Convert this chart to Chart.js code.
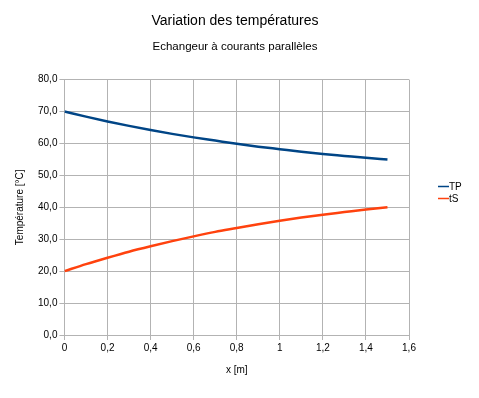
<!DOCTYPE html>
<html>
<head>
<meta charset="utf-8">
<script src="https://cdn.jsdelivr.net/npm/chart.js@4"></script>
<style>
html,body{margin:0;padding:0;background:#fff;}
#wrap{width:479px;height:398px;position:relative;}
</style>
</head>
<body>
<div id="wrap"><canvas id="c"></canvas></div>
<script>
// Data
const xPositions = [0, 0.1, 0.2, 0.3, 0.4, 0.5, 0.6, 0.7, 0.8, 0.9, 1.0, 1.1, 1.2, 1.3, 1.4, 1.5];
const tpValues   = [70.0, 68.4, 66.9, 65.5, 64.2, 63.0, 61.9, 60.9, 59.9, 59.0, 58.2, 57.4, 56.7, 56.1, 55.5, 55.0];
const tsValues   = [20.0, 22.2, 24.2, 26.1, 27.8, 29.4, 30.9, 32.3, 33.5, 34.7, 35.8, 36.8, 37.7, 38.5, 39.3, 40.0];
const seriesNames = ['TP', 'tS'];
const xTickLabels = ['0', '0,2', '0,4', '0,6', '0,8', '1', '1,2', '1,4', '1,6'];
const yTickLabels = ['0,0', '10,0', '20,0', '30,0', '40,0', '50,0', '60,0', '70,0', '80,0'];
const titleText = 'Variation des températures';
const subtitleText = 'Echangeur à courants parallèles';
const xAxisTitle = 'x [m]';
const yAxisTitle = 'Température [°C]';

const colors = ['#004586', '#ff420e'];
const FONT = '"Liberation Sans", Arial, sans-serif';

function toPoints(vals) { return xPositions.map((x, i) => ({x: x, y: vals[i]})); }

// Legend drawn to the right of the plot area, LibreOffice style (short line + label)
const sideLegend = {
  id: 'sideLegend',
  afterDraw(chart) {
    const ctx = chart.ctx;
    const ca = chart.chartArea;
    const x0 = ca.right + 29;
    const yStart = ca.top + 106;
    ctx.save();
    ctx.font = '10px ' + FONT;
    ctx.textBaseline = 'middle';
    ctx.textAlign = 'left';
    chart.data.datasets.forEach((ds, i) => {
      const y = Math.round(yStart + i * 12.5);
      ctx.strokeStyle = ds.borderColor;
      ctx.lineWidth = 1.5;
      ctx.beginPath();
      ctx.moveTo(x0, y + 0.5);
      ctx.lineTo(x0 + 11, y + 0.5);
      ctx.stroke();
      ctx.fillStyle = '#000';
      ctx.fillText(ds.label, x0 + 11, y + 1);
    });
    ctx.restore();
  }
};

new Chart(document.getElementById('c'), {
  type: 'line',
  data: {
    datasets: [
      {label: seriesNames[0], data: toPoints(tpValues), borderColor: colors[0], backgroundColor: colors[0], borderWidth: 2.5, pointRadius: 0, cubicInterpolationMode: 'monotone', fill: false},
      {label: seriesNames[1], data: toPoints(tsValues), borderColor: colors[1], backgroundColor: colors[1], borderWidth: 2.5, pointRadius: 0, cubicInterpolationMode: 'monotone', fill: false}
    ]
  },
  options: {
    responsive: true,
    maintainAspectRatio: false,
    animation: false,
    devicePixelRatio: 1,
    layout: {padding: {left: 6, right: 15, top: 0, bottom: 22}},
    plugins: {
      title: {display: true, text: titleText, color: '#000', font: {family: FONT, size: 14, weight: 'normal'}, padding: {top: 13, bottom: 6}},
      subtitle: {display: true, text: subtitleText, color: '#000', font: {family: FONT, size: 11.5, weight: 'normal'}, padding: {top: 4, bottom: 26}},
      legend: {display: false},
      tooltip: {enabled: false}
    },
    scales: {
      x: {
        type: 'linear', min: 0, max: 1.6,
        ticks: {stepSize: 0.2, color: '#000', font: {family: FONT, size: 10}, padding: 2, maxRotation: 0,
          callback: (v) => { const i = Math.round(v / 0.2); return xTickLabels[i] !== undefined ? xTickLabels[i] : ''; }},
        grid: {color: '#b3b3b3', lineWidth: 1, tickLength: 5},
        border: {color: '#b3b3b3'},
        title: {display: true, text: xAxisTitle, color: '#000', font: {family: FONT, size: 10}, padding: {top: 8, bottom: 0}}
      },
      y: {
        min: 0, max: 80,
        ticks: {stepSize: 10, color: '#000', font: {family: FONT, size: 10}, padding: 2,
          callback: (v) => { const i = Math.round(v / 10); return yTickLabels[i] !== undefined ? yTickLabels[i] : ''; }},
        grid: {color: '#b3b3b3', lineWidth: 1, tickLength: 5},
        border: {color: '#b3b3b3'},
        title: {display: true, text: yAxisTitle, color: '#000', font: {family: FONT, size: 10}, padding: {top: 8, bottom: 10}}
      },
      legendSpace: {
        type: 'linear', position: 'right', display: true,
        grid: {display: false, drawTicks: false},
        border: {display: false},
        ticks: {display: false},
        afterFit: (s) => { s.width = 55; }
      }
    }
  },
  plugins: [sideLegend]
});
</script>
</body>
</html>
